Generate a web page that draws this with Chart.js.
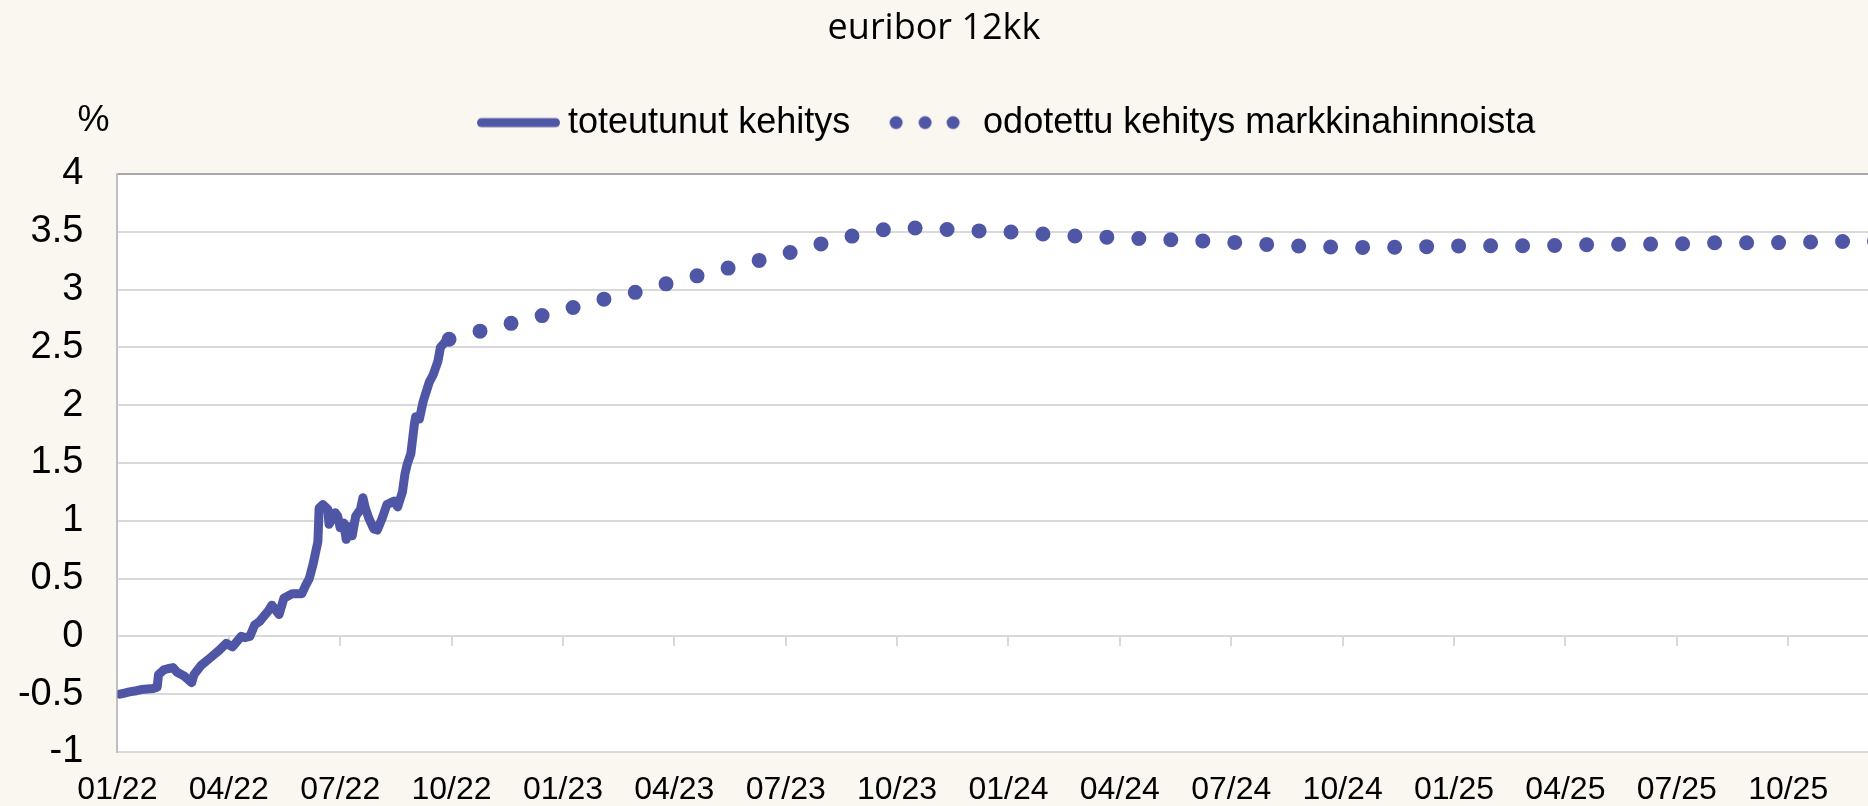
<!DOCTYPE html>
<html lang="fi">
<head>
<meta charset="utf-8">
<title>euribor 12kk</title>
<script src="https://cdn.jsdelivr.net/npm/chart.js@4.4.1/dist/chart.umd.min.js"></script>
<style>
    html, body { margin: 0; padding: 0; background: #faf6f0; }
    #wrap { position: relative; width: 1868px; height: 806px; }
</style>
</head>
<body>
<div id="wrap"><canvas id="chart"></canvas></div>
<script>
// --- DATA ---

// Realised 12 month euribor (%), business days 2022
const realizedDates = [
    '2022-01-03', '2022-01-07', '2022-01-11', '2022-01-17', '2022-01-21', '2022-01-26', '2022-01-31',
    '2022-02-03', '2022-02-04', '2022-02-08', '2022-02-11', '2022-02-15', '2022-02-18', '2022-02-23',
    '2022-03-01', '2022-03-03', '2022-03-09', '2022-03-16', '2022-03-24', '2022-03-30',
    '2022-04-04', '2022-04-11', '2022-04-14', '2022-04-18', '2022-04-22', '2022-04-26', '2022-04-29',
    '2022-05-03', '2022-05-06', '2022-05-12', '2022-05-16', '2022-05-23', '2022-05-31',
    '2022-06-03', '2022-06-06', '2022-06-09', '2022-06-13', '2022-06-14', '2022-06-17', '2022-06-21',
    '2022-06-22', '2022-06-27', '2022-06-29',
    '2022-07-01', '2022-07-04', '2022-07-06', '2022-07-08', '2022-07-11', '2022-07-14', '2022-07-18',
    '2022-07-20', '2022-07-22', '2022-07-25', '2022-07-29',
    '2022-08-01', '2022-08-05', '2022-08-09', '2022-08-15', '2022-08-18', '2022-08-22', '2022-08-24',
    '2022-08-26', '2022-08-29',
    '2022-09-01', '2022-09-02', '2022-09-05', '2022-09-08', '2022-09-13', '2022-09-16', '2022-09-20',
    '2022-09-22', '2022-09-26', '2022-09-29'
];
const realizedValues = [
    -0.50, -0.49, -0.48, -0.47, -0.46, -0.455, -0.45,
    -0.44, -0.33, -0.29, -0.28, -0.27, -0.31, -0.34,
    -0.40, -0.33, -0.25, -0.19, -0.12, -0.06,
    -0.09, 0.00, -0.01, 0.00, 0.10, 0.13, 0.17,
    0.22, 0.27, 0.19, 0.33, 0.37, 0.37,
    0.44, 0.50, 0.62, 0.82, 1.11, 1.14, 1.10,
    0.97, 1.07, 1.04,
    0.94, 0.98, 0.84, 0.95, 0.87, 1.04, 1.10,
    1.20, 1.11, 1.02, 0.93,
    0.92, 1.02, 1.14, 1.17, 1.12, 1.25, 1.40,
    1.49, 1.58,
    1.84, 1.90, 1.88, 2.03, 2.20, 2.26, 2.38,
    2.50, 2.55, 2.57
];

// Expected path from market pricing (%), monthly
const forecastDates = [
    '2022-09-29', '2022-11-01', '2022-12-01',
    '2023-01-01', '2023-02-01', '2023-03-01', '2023-04-01', '2023-05-01', '2023-06-01',
    '2023-07-01', '2023-08-01', '2023-09-01', '2023-10-01', '2023-11-01', '2023-12-01',
    '2024-01-01', '2024-02-01', '2024-03-01', '2024-04-01', '2024-05-01', '2024-06-01',
    '2024-07-01', '2024-08-01', '2024-09-01', '2024-10-01', '2024-11-01', '2024-12-01',
    '2025-01-01', '2025-02-01', '2025-03-01', '2025-04-01', '2025-05-01', '2025-06-01',
    '2025-07-01', '2025-08-01', '2025-09-01', '2025-10-01', '2025-11-01', '2025-12-01',
    '2026-01-01'
];
const forecastValues = [
    2.57, 2.66, 2.74,
    2.82, 2.91, 2.98, 3.07, 3.15, 3.23,
    3.31, 3.40, 3.48, 3.54, 3.525, 3.51,
    3.50, 3.48, 3.46, 3.45, 3.435, 3.425,
    3.41, 3.39, 3.375, 3.366, 3.364, 3.369,
    3.378, 3.379, 3.379, 3.383, 3.391, 3.393,
    3.395, 3.405, 3.405, 3.407, 3.414, 3.418,
    3.422
];

const tickLabels = [
    '01/22', '04/22', '07/22', '10/22', '01/23', '04/23', '07/23', '10/23',
    '01/24', '04/24', '07/24', '10/24', '01/25', '04/25', '07/25', '10/25'
];

const seriesNames = ['toteutunut kehitys', 'odotettu kehitys markkinahinnoista'];

// --- HELPERS ---

const LINE_COLOR = '#4f56a6';
const GRID_COLOR = '#d9d9d9';
const X_END = 47.15; // right edge of the plot, in months from 01/22

// months since 1.1.2022, fractional within the month
const toMonths = (dateStr) => {
    const [y, m, d] = dateStr.split('-').map(Number);
    const daysInMonth = new Date(y, m, 0).getDate();
    return (y - 2022) * 12 + (m - 1) + (d - 1) / daysInMonth;
};

// 'MM/YY' -> months since 1.1.2022
const labelToMonths = (label) => {
    const [mm, yy] = label.split('/').map(Number);
    return (2000 + yy - 2022) * 12 + (mm - 1);
};

const quarterTicks = (scale) => {
    scale.ticks = tickLabels.map(l => ({ value: labelToMonths(l) }));
};

const makeSwatch = (draw) => {
    const c = document.createElement('canvas');
    c.width = 120;
    c.height = 20;
    const g = c.getContext('2d');
    g.fillStyle = LINE_COLOR;
    g.strokeStyle = LINE_COLOR;
    draw(g);
    return c;
};

const solidSwatch = makeSwatch(g => {
    g.lineWidth = 9;
    g.lineCap = 'round';
    g.beginPath();
    g.moveTo(41.5, 10);
    g.lineTo(115.5, 10);
    g.stroke();
});

const dotSwatch = makeSwatch(g => {
    [41, 70, 98].forEach(cx => {
        g.beginPath();
        g.arc(cx, 10, 6.5, 0, Math.PI * 2);
        g.fill();
    });
});

// white plot area + the "%" unit label
const plotDecor = {
    id: 'plotDecor',
    beforeDraw(chart) {
        const { ctx, chartArea: a } = chart;
        ctx.save();
        ctx.fillStyle = '#ffffff';
        ctx.fillRect(a.left, a.top, a.right - a.left, a.bottom - a.top);
        ctx.restore();
    },
    afterDraw(chart) {
        const { ctx, chartArea: a } = chart;
        ctx.save();
        ctx.font = '36px "Liberation Sans", Arial, sans-serif';
        ctx.fillStyle = '#000';
        ctx.textAlign = 'center';
        ctx.textBaseline = 'middle';
        ctx.fillText('%', a.left - 24, a.top - 53);
        ctx.restore();
    }
};

// --- CHART ---

Chart.defaults.font.family = '"Liberation Sans", Arial, sans-serif';
Chart.defaults.color = '#000';

new Chart(document.getElementById('chart'), {
    type: 'line',
    data: {
        datasets: [
            {
                label: seriesNames[0],
                data: realizedDates.map((d, i) => ({ x: toMonths(d), y: realizedValues[i] })),
                borderColor: LINE_COLOR,
                borderWidth: 9,
                borderCapStyle: 'round',
                borderJoinStyle: 'round',
                pointRadius: 0,
                pointHoverRadius: 0,
                pointStyle: solidSwatch
            },
            {
                label: seriesNames[1],
                data: forecastDates.map((d, i) => ({ x: toMonths(d), y: forecastValues[i] })),
                borderColor: LINE_COLOR,
                borderWidth: 15,
                borderDash: [0, 32],
                borderCapStyle: 'round',
                pointRadius: 0,
                pointHoverRadius: 0,
                pointStyle: dotSwatch
            }
        ]
    },
    options: {
        responsive: true,
        maintainAspectRatio: false,
        animation: false,
        events: [],
        layout: { padding: 0, autoPadding: false },
        scales: {
            x: {
                type: 'linear',
                min: 0,
                max: X_END,
                afterBuildTicks: quarterTicks,
                // labels sit under the plot; keep the box itself compact
                afterFit: (scale) => { scale.height = 54; },
                grid: { display: false, drawTicks: false },
                border: { display: false },
                ticks: {
                    autoSkip: false,
                    maxRotation: 0,
                    padding: 22,
                    font: { size: 32, lineHeight: 1 },
                    callback: (value, index) => tickLabels[index]
                }
            },
            // tick marks hanging from the zero line
            xZero: {
                axis: 'x',
                type: 'linear',
                position: { y: 0 },
                min: 0,
                max: X_END,
                afterBuildTicks: quarterTicks,
                afterFit: (scale) => { scale.height = 0; },
                grid: { drawOnChartArea: false, drawTicks: true, tickLength: 10, color: GRID_COLOR, lineWidth: 2 },
                border: { display: false },
                ticks: { display: false }
            },
            y: {
                min: -1,
                max: 4,
                afterFit: (scale) => { scale.width = 117.4; },
                ticks: {
                    stepSize: 0.5,
                    padding: 0,
                    font: { size: 38 },
                    callback: (value) => String(value)
                },
                grid: {
                    // invisible tick marks keep the labels clear of the axis
                    drawTicks: true,
                    tickLength: 34,
                    tickColor: 'transparent',
                    lineWidth: 2,
                    color: (c) => (c.tick && c.tick.value === 4 ? '#a8a8a8' : GRID_COLOR)
                },
                border: { display: true, color: '#c0c0c0', width: 2 }
            }
        },
        plugins: {
            title: {
                display: true,
                text: 'euribor 12kk',
                color: '#000',
                font: { family: '"Open Sans", sans-serif', size: 36, weight: 'normal' },
                padding: { top: 7, bottom: 39.5 }
            },
            legend: {
                position: 'top',
                fullSize: false,
                weight: 1800,
                labels: {
                    usePointStyle: true,
                    pointStyleWidth: 100,
                    padding: 14.9,
                    color: '#000',
                    font: { size: 36 }
                }
            },
            // empty spacer between legend and plot
            subtitle: {
                display: true,
                text: '',
                padding: 0,
                font: { size: 23.4, lineHeight: 1 }
            },
            tooltip: { enabled: false }
        }
    },
    plugins: [plotDecor]
});
</script>
</body>
</html>
